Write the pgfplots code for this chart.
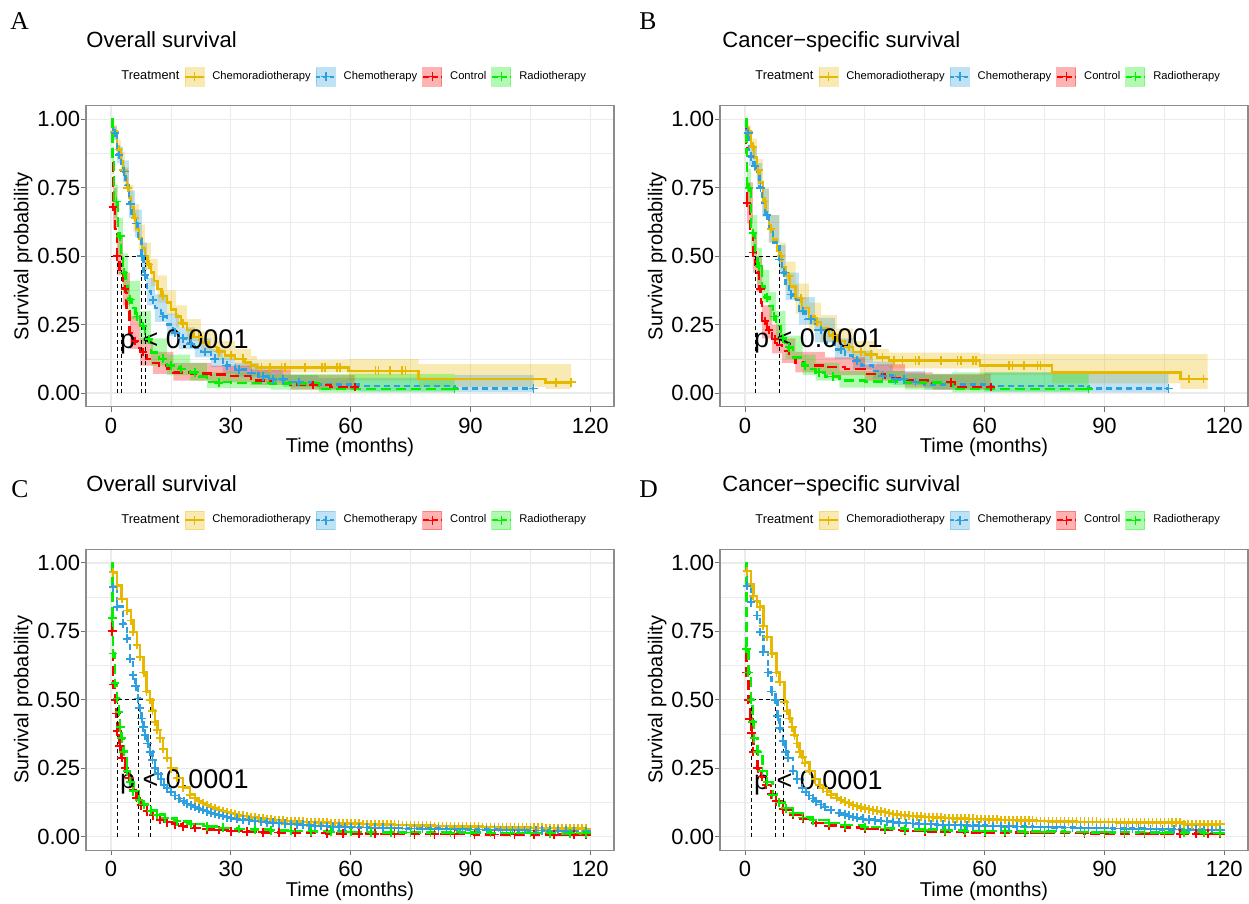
\documentclass[border=0pt]{standalone}
\usepackage{pgfplots}
\pgfplotsset{compat=1.18}
\usepackage{fontspec}
\setmainfont{Liberation Sans}
\newfontfamily\letterfont{Liberation Serif}
\definecolor{cYel}{HTML}{E7B800}
\definecolor{cBlu}{HTML}{2E9FDF}
\definecolor{cRed}{HTML}{FF0000}
\definecolor{cGrn}{HTML}{00F000}
\pgfplotsset{
  km/.style={width=264pt, height=150.5pt, scale only axis, anchor=north west,
    xmin=-6.26, xmax=125.93, ymin=-0.05, ymax=1.05,
    xtick={0,30,60,90,120}, ytick={0,0.25,0.5,0.75,1},
    minor xtick={15,45,75,105}, minor ytick={0.125,0.375,0.625,0.875},
    grid=both, major grid style={color=black!8, line width=0.6pt},
    minor grid style={color=black!8, line width=0.3pt},
    axis line style={black!45, line width=0.6pt},
    tick style={black!55, line width=0.5pt}, tick align=outside, tick pos=left,
    major tick length=2.6pt, minor tick length=0pt,
    tick label style={font=\fontsize{11}{13}\selectfont, black},
    xticklabel style={yshift=0.5pt},
    /pgf/number format/assume math mode=true,
    yticklabel style={xshift=3.2pt, /pgf/number format/.cd, fixed, fixed zerofill, precision=2},
    label style={font=\fontsize{11}{13}\selectfont},
    xlabel={Time (months)}, ylabel={Survival probability},
    every axis x label/.style={at={(axis description cs:0.5,-0.153)}, anchor=base},
    every axis y label/.style={at={(axis description cs:-0.119,0.5)}, rotate=90, anchor=center},
    legend columns=-1, legend cell align=left,
    legend style={at={(axis description cs:0.5,1.096)}, anchor=center, draw=none, fill=none,
      font=\fontsize{5.6}{6.2}\selectfont, nodes={inner sep=0pt},
      /tikz/every odd column/.style={column sep=3.7pt},
      /tikz/every even column/.style={column sep=2.3pt},
      /tikz/column 2/.style={column sep=5.6pt}},
  },
  lY/.style={const plot, cYel, line width=1.3pt, solid, forget plot},
  lB/.style={const plot, cBlu, line width=1.3pt, dash pattern=on 3pt off 2pt, forget plot},
  lR/.style={const plot, cRed, line width=1.3pt, dash pattern=on 5pt off 2.5pt, forget plot},
  lG/.style={const plot, cGrn, line width=1.3pt, dash pattern=on 5pt off 2.5pt, forget plot},
  cens/.style={only marks, mark=+, mark size=2.2pt, mark options={solid, line width=0.85pt}, forget plot},
  dense/.style={mark=+, mark size=2.2pt, mark phase=2, mark options={solid, line width=0.9pt}},
  bnd/.style={const plot, draw=none, fill opacity=0.3, forget plot},
  med/.style={black, line width=0.45pt, dash pattern=on 2pt off 1.5pt, forget plot},
}
\newcommand{\kmlegend}{%
  \addlegendimage{empty legend}\addlegendentry{\fontsize{6.4}{7}\selectfont Treatment}
  \addlegendimage{legend image code/.code={\fill[cYel,opacity=0.3] (0pt,-4.6pt) rectangle (9.5pt,4.6pt);
     \draw[cYel,line width=1pt] (0pt,0pt)--(9.5pt,0pt);
     \draw[cYel,line width=0.7pt] (4.75pt,-2.3pt)--(4.75pt,2.3pt) (2.45pt,0pt)--(7.05pt,0pt);}}
  \addlegendentry{Chemoradiotherapy}
  \addlegendimage{legend image code/.code={\fill[cBlu,opacity=0.3] (0pt,-4.6pt) rectangle (9.5pt,4.6pt);
     \draw[cBlu,line width=1pt,dash pattern=on 2pt off 1.5pt] (0pt,0pt)--(9.5pt,0pt);
     \draw[cBlu,line width=0.7pt] (4.75pt,-2.3pt)--(4.75pt,2.3pt) (2.45pt,0pt)--(7.05pt,0pt);}}
  \addlegendentry{Chemotherapy}
  \addlegendimage{legend image code/.code={\fill[cRed,opacity=0.3] (0pt,-4.6pt) rectangle (9.5pt,4.6pt);
     \draw[cRed,line width=1pt,dash pattern=on 3pt off 1.5pt] (0pt,0pt)--(9.5pt,0pt);
     \draw[cRed,line width=0.7pt] (4.75pt,-2.3pt)--(4.75pt,2.3pt) (2.45pt,0pt)--(7.05pt,0pt);}}
  \addlegendentry{Control}
  \addlegendimage{legend image code/.code={\fill[cGrn,opacity=0.3] (0pt,-4.6pt) rectangle (9.5pt,4.6pt);
     \draw[cGrn,line width=1pt,dash pattern=on 3pt off 1.5pt] (0pt,0pt)--(9.5pt,0pt);
     \draw[cGrn,line width=0.7pt] (4.75pt,-2.3pt)--(4.75pt,2.3pt) (2.45pt,0pt)--(7.05pt,0pt);}}
  \addlegendentry{Radiotherapy}
}
\begin{document}
\begin{tikzpicture}
\useasboundingbox (0,0) rectangle (624.5pt,452pt);
% ================= A =================
\begin{axis}[km, at={(43pt,399.15pt)}]
\kmlegend
% confidence bands: upper steps, then lower steps traversed backwards
\addplot[bnd, fill=cYel] coordinates {(0,1)(0.5,0.98)(1.5,0.925)(2.5,0.88)(3.5,0.825)(4.5,0.76)(5.6,0.69)(7,0.615)(8.5,0.55)(10,0.49)(11.7,0.43)(14,0.375)(16.3,0.32)(19,0.27)(22.5,0.225)(26.5,0.19)(31,0.16)(35,0.135)(36.5,0.12)(59.5,0.124)(77,0.106)(108.8,0.106)(115.2,0.106)
 (115.2,0.015)(108.8,0.022)(77,0.045)(59.5,0.075)(36.5,0.08)(35,0.095)(31,0.12)(26.5,0.15)(22.5,0.19)(19,0.24)(16.3,0.285)(14,0.33)(11.7,0.39)(10,0.45)(8.5,0.515)(7,0.59)(5.6,0.67)(4.5,0.745)(3.5,0.81)(2.5,0.855)(1.5,0.93)(0.5,1)(0,1)};
\addplot[bnd, fill=cBlu] coordinates {(0,1)(0.5,0.975)(1.5,0.9)(3,0.85)(4.5,0.74)(6,0.67)(7.7,0.55)(9,0.42)(11,0.36)(14,0.29)(17,0.24)(21,0.2)(25,0.16)(28,0.13)(31,0.11)(37,0.085)(43,0.065)(52,0.055)(62,0.055)(86,0.065)(105.8,0.065)
 (105.8,0.004)(86,0.006)(62,0.012)(52,0.022)(43,0.04)(37,0.06)(31,0.072)(28,0.095)(25,0.13)(21,0.16)(17,0.21)(14,0.26)(11,0.32)(9,0.45)(7.7,0.57)(6,0.64)(4.5,0.77)(3,0.84)(1.5,0.925)(0.5,1)(0,1)};
\addplot[bnd, fill=cRed] coordinates {(0,1)(0.5,0.75)(1.5,0.57)(3,0.44)(4.7,0.28)(7.3,0.2)(10.5,0.15)(15.6,0.11)(25,0.1)(35,0.085)(45,0.065)(61,0.055)
 (61,0.012)(45,0.03)(35,0.04)(25,0.045)(15.6,0.07)(10.5,0.1)(7.3,0.16)(4.7,0.32)(3,0.43)(1.5,0.6)(0.5,1)(0,1)};
\addplot[bnd, fill=cGrn] coordinates {(0,1)(0.3,0.9)(0.8,0.76)(1.8,0.64)(3,0.51)(4.3,0.41)(7.3,0.3)(10,0.2)(14,0.14)(19.8,0.11)(24,0.075)(40,0.07)(52,0.07)(86,0.07)
 (86,0.002)(52,0.012)(40,0.018)(24,0.045)(19.8,0.065)(14,0.1)(10,0.18)(7.3,0.27)(4.3,0.37)(3,0.5)(1.8,0.64)(0.8,0.8)(0.3,1)(0,1)};
\addplot[lY] coordinates {(0,1)(0.5,0.955)(1.5,0.89)(2.5,0.845)(3,0.815)(3.5,0.785)(4,0.75)(4.5,0.715)(5,0.68)(5.6,0.64)(6.3,0.6)(7,0.565)(7.8,0.53)(8.5,0.5)(9.2,0.47)(10,0.44)(10.8,0.41)(11.7,0.38)(12.7,0.355)(14,0.33)(15,0.305)(16.3,0.28)(17.5,0.255)(19,0.23)(20.6,0.205)(22.5,0.185)(24.5,0.168)(26.5,0.152)(28.5,0.138)(31,0.125)(33.5,0.112)(35,0.1)(36.5,0.094)(59.5,0.081)(77,0.051)(108.8,0.039)(115.2,0.039)};
\addplot[lB] coordinates {(0,1)(0.5,0.95)(1.5,0.87)(2.5,0.83)(3,0.81)(3.7,0.76)(4.5,0.69)(5.2,0.65)(6,0.62)(6.8,0.56)(7.7,0.5)(8.2,0.43)(9,0.37)(10,0.34)(11,0.31)(12.5,0.28)(14,0.25)(15.5,0.22)(17,0.2)(19,0.18)(21,0.165)(22.5,0.15)(25,0.125)(28,0.1)(31,0.085)(34,0.073)(37,0.06)(40,0.05)(44,0.04)(50,0.03)(62,0.025)(86,0.017)(105.8,0.017)};
\addplot[lR] coordinates {(0,1)(0.3,0.88)(0.5,0.68)(1,0.6)(1.5,0.5)(2.2,0.45)(3,0.38)(3.9,0.3)(4.7,0.22)(5.5,0.19)(6.5,0.165)(7.3,0.15)(8.9,0.124)(10.5,0.11)(12,0.1)(14,0.09)(15.6,0.076)(20,0.072)(25,0.068)(30,0.062)(35,0.045)(40,0.035)(45,0.031)(50.6,0.029)(55,0.022)(61,0.022)};
\addplot[lG] coordinates {(0,1)(0.3,0.85)(0.8,0.7)(1.8,0.573)(2.5,0.5)(3,0.44)(3.7,0.39)(4.3,0.342)(5.2,0.31)(6.2,0.28)(7.3,0.245)(8.5,0.197)(10,0.149)(12,0.125)(14,0.1)(17,0.088)(19.8,0.076)(22,0.06)(24,0.04)(30,0.037)(40,0.035)(52,0.015)(86,0.015)};
\addplot[cens, cYel] coordinates {(0.9,0.955)(2,0.89)(3.2,0.815)(4.2,0.75)(6,0.64)(9.5,0.47)(13,0.355)(18,0.255)(22,0.205)(27,0.152)(30,0.138)(33,0.125)(35.2,0.1)(37.7,0.094)(39.8,0.094)(42.7,0.094)(43.6,0.094)(48.6,0.094)(52.8,0.094)(53.6,0.094)(56.5,0.094)(57.4,0.094)(66.2,0.081)(67,0.081)(69.9,0.081)(72.9,0.081)(73.7,0.081)(111.4,0.039)(115.2,0.039)};
\addplot[cens, cBlu] coordinates {(1,0.95)(2,0.87)(3.3,0.81)(4.9,0.69)(6.4,0.62)(7.7,0.5)(8.5,0.43)(10.5,0.34)(13,0.28)(16,0.22)(18,0.2)(20,0.18)(23.5,0.15)(26,0.125)(29,0.1)(32,0.085)(35.2,0.073)(38,0.06)(40.5,0.05)(43,0.05)(47,0.04)(105.8,0.017)};
\addplot[cens, cRed] coordinates {(0.5,0.68)(1.5,0.5)(3.5,0.38)(6,0.19)(8,0.15)(50.6,0.029)(61,0.022)};
\addplot[cens, cGrn] coordinates {(1.4,0.7)(2.3,0.573)(3.2,0.44)(4.8,0.342)(6.5,0.28)(8,0.245)(9.5,0.197)(13,0.125)(15,0.1)(17.5,0.088)(21,0.076)(27,0.037)(86,0.015)};
\addplot[med] coordinates {(0,0.5)(8.7,0.5)};
\addplot[med] coordinates {(1.5,0.5)(1.5,0)};
\addplot[med] coordinates {(2.6,0.5)(2.6,0)};
\addplot[med] coordinates {(7.6,0.5)(7.6,0)};
\addplot[med] coordinates {(8.7,0.5)(8.7,0)};
\node[anchor=base west, inner sep=0pt, font=\fontsize{13.5}{15}\selectfont] at (axis cs:2.2,0.163) {p < 0.0001};
\end{axis}
% ================= B =================
\begin{axis}[km, at={(360pt,399.15pt)}]
\kmlegend
\addplot[bnd, fill=cYel] coordinates {(0,1)(0.5,0.98)(1.5,0.93)(3,0.855)(4.5,0.75)(6,0.65)(8.6,0.55)(10.2,0.48)(12.7,0.4)(16,0.33)(19,0.285)(23,0.235)(27,0.19)(33,0.16)(36,0.148)(58.8,0.142)(76.9,0.142)(109,0.142)(115.8,0.142)
 (115.8,0.015)(109,0.035)(76.9,0.065)(58.8,0.09)(36,0.1)(33,0.11)(27,0.145)(23,0.185)(19,0.23)(16,0.29)(12.7,0.375)(10.2,0.45)(8.6,0.55)(6,0.65)(4.5,0.775)(3,0.87)(1.5,0.93)(0.5,1)(0,1)};
\addplot[bnd, fill=cBlu] coordinates {(0,1)(0.3,0.975)(1,0.9)(3,0.84)(4.3,0.745)(6,0.65)(8.6,0.54)(10.2,0.44)(13.5,0.35)(17.5,0.275)(22.5,0.2)(27,0.155)(32,0.115)(37,0.08)(45,0.065)(60,0.075)(86,0.075)(106,0.075)
 (106,0.002)(86,0.005)(60,0.012)(45,0.03)(37,0.05)(32,0.085)(27,0.125)(22.5,0.185)(17.5,0.25)(13.5,0.34)(10.2,0.435)(8.6,0.55)(6,0.645)(4.3,0.76)(3,0.83)(1,0.925)(0.3,1)(0,1)};
\addplot[bnd, fill=cRed] coordinates {(0,1)(0.5,0.77)(2,0.58)(3,0.5)(4.3,0.32)(6.8,0.25)(9.3,0.2)(12.6,0.15)(20,0.13)(30,0.105)(40,0.075)(47,0.07)(61.5,0.06)
 (61.5,0.012)(47,0.02)(40,0.045)(30,0.065)(20,0.075)(12.6,0.11)(9.3,0.145)(6.8,0.2)(4.3,0.37)(3,0.44)(2,0.62)(0.5,1)(0,1)};
\addplot[bnd, fill=cGrn] coordinates {(0,1)(0.5,0.82)(1.5,0.65)(3.1,0.53)(4.3,0.45)(6.1,0.37)(7.8,0.3)(10.2,0.21)(14.4,0.14)(17.7,0.11)(23.6,0.08)(40,0.07)(51.9,0.075)(86,0.075)
 (86,0.002)(51.9,0.012)(40,0.02)(23.6,0.045)(17.7,0.065)(14.4,0.125)(10.2,0.19)(7.8,0.265)(6.1,0.33)(4.3,0.4)(3.1,0.52)(1.5,0.68)(0.5,1)(0,1)};
\addplot[lY] coordinates {(0,1)(0.5,0.955)(1.5,0.9)(2.3,0.86)(3,0.815)(3.6,0.77)(4.5,0.7)(5.2,0.65)(6,0.6)(7,0.56)(8,0.52)(8.6,0.5)(9.3,0.46)(10.2,0.427)(11.3,0.39)(12.7,0.345)(14.3,0.31)(16,0.28)(17.5,0.26)(19,0.235)(21,0.21)(23,0.19)(25,0.168)(27,0.15)(30,0.14)(33,0.13)(36,0.118)(58.8,0.1)(76.9,0.075)(109,0.051)(115.8,0.051)};
\addplot[lB] coordinates {(0,1)(0.3,0.95)(1,0.864)(2,0.83)(3,0.8)(3.6,0.75)(4.3,0.695)(5,0.65)(6,0.6)(7,0.55)(8.6,0.488)(9.3,0.44)(10.2,0.39)(11,0.36)(12,0.342)(13.5,0.3)(15.2,0.27)(17.5,0.23)(20,0.185)(22.5,0.16)(25,0.136)(27,0.118)(29.2,0.1)(32,0.08)(34,0.063)(37,0.05)(40.3,0.04)(45,0.032)(52,0.03)(60,0.025)(86,0.017)(106,0.017)};
\addplot[lR] coordinates {(0,1)(0.2,0.9)(0.5,0.695)(1.2,0.6)(2,0.513)(2.6,0.47)(3,0.44)(3.5,0.38)(4,0.33)(4.3,0.263)(5.5,0.23)(6.8,0.197)(8,0.175)(9.3,0.154)(11,0.13)(12.6,0.111)(15,0.1)(20,0.095)(25,0.088)(30,0.07)(35,0.055)(40,0.045)(47,0.039)(52.5,0.022)(61.5,0.022)};
\addplot[lG] coordinates {(0,1)(0.3,0.88)(0.5,0.75)(1.5,0.585)(2.5,0.5)(3.1,0.463)(4.3,0.39)(5,0.35)(6.1,0.318)(7,0.28)(7.8,0.245)(9,0.2)(10.2,0.167)(12,0.13)(14.4,0.1)(16,0.088)(17.7,0.076)(20,0.06)(23.6,0.045)(30,0.042)(40,0.038)(51.9,0.015)(86,0.015)};
\addplot[cens, cYel] coordinates {(1,0.955)(2,0.9)(3.3,0.815)(5,0.7)(6.5,0.6)(9,0.5)(11,0.427)(14,0.345)(18,0.26)(22,0.21)(26,0.168)(29,0.15)(31.5,0.14)(34.4,0.13)(37.3,0.118)(39.4,0.118)(42.7,0.118)(43.6,0.118)(49,0.118)(53.2,0.118)(54,0.118)(57,0.118)(57.8,0.118)(66.1,0.1)(67,0.1)(69.9,0.1)(73.2,0.1)(74,0.1)(111.1,0.051)(114.8,0.051)};
\addplot[cens, cBlu] coordinates {(0.8,0.95)(1.5,0.864)(2.5,0.83)(3.9,0.75)(5.5,0.65)(8.6,0.488)(9.8,0.44)(11.5,0.36)(14.5,0.3)(16.5,0.27)(19,0.23)(24,0.16)(28,0.118)(34.4,0.063)(37.7,0.05)(39.8,0.05)(42.7,0.04)(106,0.017)};
\addplot[cens, cRed] coordinates {(0.5,0.695)(2,0.513)(3.8,0.38)(5,0.263)(6,0.23)(7.5,0.197)(51.5,0.039)(61.5,0.022)};
\addplot[cens, cGrn] coordinates {(1,0.75)(2,0.585)(3.5,0.463)(5.5,0.35)(7.3,0.28)(9.5,0.2)(11,0.167)(15,0.1)(18.5,0.076)(22,0.06)(86,0.015)};
\addplot[med] coordinates {(0,0.5)(8.7,0.5)};
\addplot[med] coordinates {(2.5,0.5)(2.5,0)};
\addplot[med] coordinates {(8.7,0.5)(8.7,0)};
\node[anchor=base west, inner sep=0pt, font=\fontsize{13.5}{15}\selectfont] at (axis cs:2.2,0.166) {p < 0.0001};
\end{axis}
% ================= C =================
\begin{axis}[km, at={(43pt,177.35pt)}]
\kmlegend
\addplot[lY, dense] coordinates {(0,1)(0.5,0.966)(1.5,0.917)(2.7,0.869)(4,0.826)(5,0.79)(5.6,0.748)(6.5,0.7)(7.3,0.657)(8.2,0.6)(8.9,0.53)(9.8,0.5)(10.4,0.46)(11,0.42)(11.6,0.39)(12.3,0.36)(13,0.32)(14,0.287)(15,0.25)(16.5,0.214)(18,0.18)(19.8,0.153)(21,0.14)(22,0.13)(23,0.122)(24,0.115)(25,0.108)(26,0.102)(27,0.097)(28,0.093)(29,0.089)(30,0.086)(31,0.082)(32,0.079)(33,0.076)(34,0.074)(35,0.072)(36,0.069)(37,0.067)(38,0.066)(39,0.064)(40,0.063)(41,0.061)(42,0.06)(43,0.058)(44,0.057)(45,0.056)(46,0.055)(47,0.055)(48,0.054)(49,0.053)(50,0.053)(51,0.052)(52,0.052)(53,0.051)(54,0.051)(55,0.05)(56,0.05)(57,0.049)(58,0.049)(59,0.048)(60,0.048)(61,0.047)(62,0.047)(63,0.046)(64,0.046)(65,0.045)(66,0.045)(67,0.045)(68,0.045)(69,0.044)(70,0.044)(71,0.043)(72,0.043)(73,0.042)(74,0.042)(75,0.041)(76,0.041)(77,0.041)(78,0.041)(79,0.04)(80,0.04)(81,0.039)(82,0.039)(83,0.039)(84,0.039)(85,0.038)(86,0.038)(87,0.037)(88,0.037)(89,0.037)(90,0.037)(91,0.036)(92,0.036)(93,0.035)(94,0.035)(95,0.035)(96,0.035)(97,0.034)(98,0.034)(99,0.034)(100,0.034)(101,0.033)(102,0.033)(103,0.033)(104,0.033)(105,0.032)(106,0.032)(107,0.032)(108,0.032)(109,0.031)(110,0.031)(111,0.03)(112,0.03)(113,0.03)(114,0.03)(115,0.03)(116,0.03)(117,0.029)(118,0.029)(119,0.029)};
\addplot[lB, dense] coordinates {(0,1)(0.5,0.911)(1.5,0.84)(3,0.778)(4,0.723)(4.8,0.65)(5.5,0.59)(6.2,0.55)(6.8,0.505)(7.2,0.47)(7.7,0.432)(8.1,0.4)(8.5,0.37)(9.2,0.34)(9.8,0.31)(10.4,0.28)(11,0.25)(11.8,0.23)(12.5,0.21)(13.3,0.19)(14,0.177)(15,0.163)(16,0.15)(17,0.139)(18.2,0.129)(19,0.121)(20,0.115)(21,0.108)(22,0.102)(23,0.097)(24,0.092)(25,0.087)(26,0.083)(27,0.079)(28,0.075)(29,0.071)(30,0.068)(31.5,0.065)(33,0.062)(34.5,0.06)(36,0.057)(37.5,0.055)(39,0.052)(40.5,0.051)(42,0.049)(43.5,0.048)(45,0.046)(46.5,0.045)(48,0.043)(49.5,0.042)(51,0.04)(52.5,0.039)(54,0.038)(55.5,0.037)(57,0.036)(58.5,0.035)(60,0.034)(62,0.033)(64,0.033)(66,0.032)(68,0.032)(70,0.031)(72,0.031)(74,0.03)(76,0.03)(78,0.029)(80,0.029)(82,0.029)(84,0.028)(86,0.027)(88,0.027)(90,0.026)(92,0.026)(94,0.025)(96,0.025)(97.5,0.024)(99,0.024)(100.5,0.024)(102,0.023)(103.5,0.023)(105,0.022)(106.5,0.022)(108,0.022)(110,0.021)(112,0.021)(114,0.021)(116,0.02)(119,0.02)};
\addplot[lR, dense] coordinates {(0,1)(0.3,0.75)(0.5,0.556)(1,0.5)(1.3,0.45)(1.6,0.385)(2.2,0.33)(2.7,0.287)(3.5,0.25)(4.5,0.214)(5.5,0.17)(6.4,0.141)(7.5,0.115)(9,0.093)(10.5,0.078)(12.3,0.062)(14,0.053)(16,0.045)(18,0.038)(21,0.032)(24,0.027)(27,0.024)(30,0.02)(34,0.018)(38,0.016)(42,0.015)(46,0.014)(50,0.013)(54,0.012)(58,0.011)(62,0.011)(66,0.01)(71,0.01)(76,0.009)(81,0.009)(86,0.009)(91,0.008)(96,0.008)(101,0.008)(106,0.008)(111,0.007)(116,0.007)(119,0.007)};
\addplot[lG, dense] coordinates {(0,1)(0.3,0.8)(0.5,0.669)(1,0.56)(1.5,0.505)(2,0.456)(2.3,0.4)(2.7,0.36)(3.2,0.31)(4,0.24)(4.8,0.2)(5.6,0.166)(7,0.135)(8.2,0.117)(10,0.095)(11.5,0.08)(13.5,0.067)(16.5,0.056)(20,0.046)(24,0.038)(28,0.032)(32,0.028)(36,0.025)(40,0.023)(45,0.021)(50,0.019)(55,0.018)(60,0.017)(65,0.016)(70,0.016)(75,0.015)(80,0.015)(85,0.014)(90,0.014)(95,0.013)(100,0.013)(105,0.013)(110,0.012)(115,0.012)(119,0.012)};
\addplot[med] coordinates {(0,0.5)(9.8,0.5)};
\addplot[med] coordinates {(1.5,0.5)(1.5,0)};
\addplot[med] coordinates {(1.6,0.5)(1.6,0)};
\addplot[med] coordinates {(6.8,0.5)(6.8,0)};
\addplot[med] coordinates {(9.8,0.5)(9.8,0)};
\node[anchor=base west, inner sep=0pt, font=\fontsize{13.5}{15}\selectfont] at (axis cs:2.2,0.176) {p < 0.0001};
\end{axis}
% ================= D =================
\begin{axis}[km, at={(360pt,177.35pt)}]
\kmlegend
\addplot[lY, dense] coordinates {(0,1)(0.5,0.97)(1.5,0.923)(2.1,0.88)(3,0.86)(3.8,0.84)(4.6,0.77)(5.5,0.73)(6.7,0.669)(7.9,0.6)(8.7,0.565)(9.9,0.493)(10.5,0.46)(11.2,0.432)(11.8,0.4)(12.4,0.37)(13,0.34)(13.7,0.31)(14.4,0.29)(15,0.27)(16.2,0.24)(17.5,0.21)(18.7,0.189)(19.5,0.177)(20.5,0.165)(21.5,0.153)(22.9,0.141)(24,0.134)(25,0.127)(26,0.121)(27,0.115)(28,0.11)(29,0.106)(30,0.102)(31,0.1)(32,0.096)(33,0.094)(34,0.091)(35,0.088)(36,0.086)(37,0.083)(38,0.08)(39,0.079)(40,0.077)(41,0.076)(42,0.075)(43,0.074)(44,0.073)(45,0.072)(46,0.071)(47,0.07)(48,0.069)(49,0.069)(50,0.068)(51,0.068)(52,0.067)(53,0.067)(54,0.066)(55,0.066)(56,0.065)(57,0.065)(58,0.064)(59,0.064)(60,0.063)(61,0.063)(62,0.062)(63,0.062)(64,0.061)(65,0.061)(66,0.06)(67,0.06)(68,0.059)(69,0.059)(70,0.058)(71,0.058)(72,0.058)(73,0.057)(74,0.057)(75,0.057)(76,0.056)(77,0.056)(78,0.056)(79,0.055)(80,0.055)(81,0.055)(82,0.055)(83,0.054)(84,0.054)(85,0.054)(86,0.054)(87,0.054)(88,0.054)(89,0.053)(90,0.053)(91,0.053)(92,0.053)(93,0.052)(94,0.052)(95,0.052)(96,0.052)(97,0.051)(98,0.051)(99,0.051)(100,0.051)(101,0.051)(102,0.051)(103,0.051)(104,0.051)(105,0.051)(106,0.051)(107,0.051)(108,0.051)(109,0.051)(110,0.045)(111,0.045)(112,0.045)(113,0.045)(114,0.045)(115,0.045)(116,0.045)(117,0.045)(118,0.045)(119,0.045)};
\addplot[lB, dense] coordinates {(0,1)(0.5,0.917)(1.5,0.857)(3,0.808)(3.8,0.748)(4.6,0.675)(5.8,0.6)(6.7,0.53)(7.6,0.5)(8.2,0.44)(8.7,0.396)(9.5,0.348)(10.2,0.31)(10.8,0.287)(12,0.24)(13,0.21)(14.4,0.177)(15.2,0.163)(16,0.15)(17,0.139)(17.7,0.129)(19,0.117)(20,0.108)(21.5,0.097)(23.6,0.086)(25,0.08)(26,0.076)(27,0.072)(28,0.069)(29.5,0.065)(31,0.062)(32.5,0.06)(34,0.057)(35.5,0.055)(37,0.053)(38.5,0.051)(40.3,0.05)(42,0.048)(43.5,0.047)(45,0.046)(46.5,0.045)(48,0.044)(49.5,0.043)(51,0.042)(52.5,0.042)(54,0.041)(55.5,0.041)(57,0.04)(58.5,0.04)(60,0.04)(62,0.039)(64,0.038)(66,0.038)(68,0.037)(70,0.036)(72,0.035)(74,0.035)(76,0.034)(78,0.034)(80,0.033)(82,0.033)(84,0.032)(86,0.032)(88,0.031)(90,0.031)(92,0.03)(94,0.03)(95.5,0.029)(97,0.029)(98.5,0.029)(100,0.028)(101.5,0.028)(103,0.027)(104.5,0.027)(106,0.027)(107.5,0.026)(109,0.026)(111,0.025)(113,0.025)(115,0.024)(117,0.024)(119,0.024)};
\addplot[lR, dense] coordinates {(0,1)(0.3,0.6)(0.8,0.5)(1.2,0.43)(1.7,0.38)(2.1,0.31)(3.2,0.25)(4.2,0.22)(5.3,0.189)(6.5,0.155)(7.8,0.129)(9.5,0.1)(12,0.08)(14.5,0.065)(17.7,0.05)(21,0.04)(25,0.034)(30,0.028)(35,0.024)(40,0.021)(45,0.019)(50,0.017)(55,0.016)(60,0.015)(65,0.014)(70,0.014)(75,0.013)(80,0.013)(85,0.012)(90,0.012)(95,0.012)(100,0.011)(105,0.011)(109,0.011)(113,0.01)(116,0.01)(119,0.01)};
\addplot[lG, dense] coordinates {(0,1)(0.3,0.687)(0.8,0.6)(1.5,0.5)(1.9,0.42)(2.3,0.36)(3.2,0.31)(4.4,0.24)(5.5,0.2)(6.9,0.153)(8.5,0.125)(10.2,0.104)(12,0.087)(14.4,0.07)(17,0.06)(21,0.05)(25,0.042)(30,0.035)(35,0.03)(40,0.027)(45,0.025)(50,0.023)(55,0.021)(60,0.02)(65,0.019)(70,0.018)(75,0.018)(80,0.017)(85,0.016)(90,0.016)(95,0.015)(100,0.015)(105,0.014)(110,0.014)(115,0.013)(119,0.013)};
\addplot[med] coordinates {(0,0.5)(9.7,0.5)};
\addplot[med] coordinates {(1.5,0.5)(1.5,0)};
\addplot[med] coordinates {(7.6,0.5)(7.6,0)};
\addplot[med] coordinates {(9.7,0.5)(9.7,0)};
\node[anchor=base west, inner sep=0pt, font=\fontsize{13.5}{15}\selectfont] at (axis cs:2.2,0.171) {p < 0.0001};
\end{axis}
% ================= titles and letters =================
\node[anchor=base west, inner sep=0pt, font=\fontsize{12.8}{14}\letterfont] at (5pt,437pt) {A};
\node[anchor=base west, inner sep=0pt, font=\fontsize{12.8}{14}\letterfont] at (319.5pt,437pt) {B};
\node[anchor=base west, inner sep=0pt, font=\fontsize{12.8}{14}\letterfont] at (5.5pt,203pt) {C};
\node[anchor=base west, inner sep=0pt, font=\fontsize{12.8}{14}\letterfont] at (319.5pt,203pt) {D};
\node[anchor=base west, inner sep=0pt, font=\fontsize{11}{13}\selectfont] at (43pt,428pt) {Overall survival};
\node[anchor=base west, inner sep=0pt, font=\fontsize{11}{13}\selectfont] at (361pt,428pt) {Cancer−specific survival};
\node[anchor=base west, inner sep=0pt, font=\fontsize{11}{13}\selectfont] at (43pt,206pt) {Overall survival};
\node[anchor=base west, inner sep=0pt, font=\fontsize{11}{13}\selectfont] at (361pt,206pt) {Cancer−specific survival};
\end{tikzpicture}
\end{document}
